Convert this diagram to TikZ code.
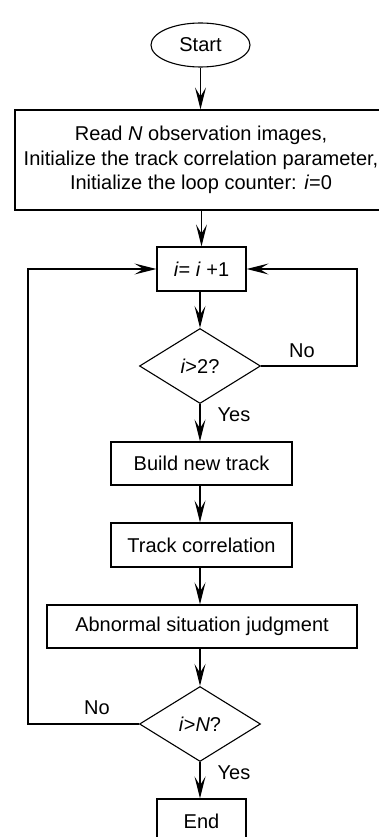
\documentclass[tikz,border=0pt]{standalone}
\usepackage{fontspec}
\setmainfont{Liberation Sans}
\usetikzlibrary{shapes.geometric,arrows.meta}
\begin{document}
\begin{tikzpicture}[x=1pt,y=-1pt,
  every node/.style={font=\fontsize{20}{24.5}\selectfont, inner sep=0pt},
  box/.style={draw, line width=1.1pt, rectangle},
  dia/.style={draw, line width=1.1pt, diamond, minimum width=121pt, minimum height=75pt},
  lbl/.style={},
  conn/.style={line width=1.1pt, -{Stealth[length=22pt,width=11pt,inset=9pt]}},
  plain/.style={line width=1.1pt}]
\useasboundingbox (0,0) rectangle (379,837);
\node[draw, line width=1.1pt, ellipse, minimum width=99pt, minimum height=44pt] (start) at (200.5,45) {Start};
\node[box, minimum width=372pt, minimum height=100pt, align=center] (init) at (201,160)
  {Read \textit{N} observation images,\\Initialize the track correlation parameter,\\Initialize the loop counter: \textit{i}=0};
\node[box, minimum width=89pt, minimum height=44pt] (inc) at (201.5,269) {\textit{i}= \textit{i} +1};
\node[dia] (d1) at (200,366) {\textit{i}>2?};
\node[box, minimum width=181pt, minimum height=43pt] (build) at (201.5,463.5) {Build new track};
\node[box, minimum width=181pt, minimum height=44pt] (corr) at (201.5,545) {Track correlation};
\node[box, minimum width=310pt, minimum height=43pt] (abn) at (202,626.5) {Abnormal situation judgment};
\node[dia] (d2) at (200,724) {\textit{i}>\textit{N}?};
\node[box, minimum width=89pt, minimum height=44pt] (end) at (201.5,821) {End};
\coordinate (r1) at (357,366);
\coordinate (r2) at (357,269);
\coordinate (l1) at (28,724);
\coordinate (l2) at (28,269);
\draw[conn] (start.south) -- (start.south |- init.north);
\draw[conn] (init.south -| inc.north) -- (inc.north);
\draw[conn] (inc.south -| d1.north) -- (d1.north);
\draw[conn] (d1.south) -- (d1.south |- build.north);
\draw[conn] (build.south -| d1.south) -- (d1.south |- corr.north);
\draw[conn] (corr.south -| d1.south) -- (d1.south |- abn.north);
\draw[conn] (abn.south -| d2.north) -- (d2.north);
\draw[conn] (d2.south) -- (d2.south |- end.north);
\draw[conn] (d1.east) -- (r1) -- (r2) -- (inc.east);
\draw[conn] (d2.west) -- (l1) -- (l2) -- (inc.west);
\node[lbl] (no1) at (302,351) {No};
\node[lbl] (yes1) at (234,415) {Yes};
\node[lbl] (no2) at (97,708) {No};
\node[lbl] (yes2) at (234,773) {Yes};
\end{tikzpicture}
\end{document}
